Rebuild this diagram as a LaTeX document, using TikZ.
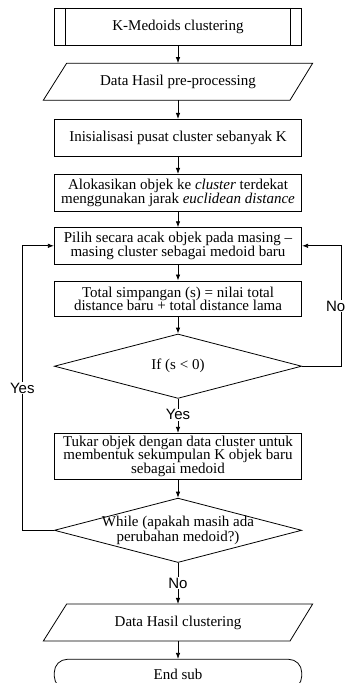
\documentclass[tikz,border=0pt]{standalone}
\usepackage{fontspec}
\setmainfont{Liberation Serif}
\newfontfamily\arialf{Liberation Sans}
\usetikzlibrary{arrows.meta,shapes.geometric,shapes.misc,calc}
\newcommand\fsz{\fontsize{15}{13.7}\selectfont}
\tikzset{
  base/.style={line width=0.8pt},
  arr/.style={line width=0.8pt, -{Latex[length=6pt,width=4.5pt]}},
  procbox/.style={draw, line width=0.8pt, minimum width=247.4pt, inner sep=2pt, align=center, font=\fsz},
  iobox/.style={minimum width=224pt, minimum height=36.7pt, inner sep=2pt, align=center, font=\fsz},
  dia/.style={diamond, draw, line width=0.8pt, minimum width=247.4pt, minimum height=64.4pt, inner sep=0pt},
  diatext/.style={align=center, font=\fsz, inner sep=0pt},
  term/.style={draw, line width=0.8pt, rectangle, rounded corners=13pt, minimum width=247.4pt, minimum height=30pt, font=\fsz},
  lbl/.style={fill=white, inner sep=1pt, font=\arialf\fontsize{15}{15}\selectfont}
}
\begin{document}
\begin{tikzpicture}[x=1pt, y=-1pt]
\clip (0,0) rectangle (346,683);
\fill[white] (0,0) rectangle (346,683);
% nodes
\node[procbox, minimum height=36.7pt] (b1) at (178,26.7) {K-Medoids clustering};
\draw[base] ($(b1.north west)+(11.4,0)$) -- ($(b1.south west)+(11.4,0)$);
\draw[base] ($(b1.north east)+(-11.4,0)$) -- ($(b1.south east)+(-11.4,0)$);
\node[iobox] (p2) at (178,81.7) {Data Hasil pre-processing};
\draw[base] ($(p2.north)+(-111.3,0)$) -- ($(p2.north)+(134.7,0)$) -- ($(p2.south)+(112,0)$) -- ($(p2.south)+(-134.7,0)$) -- cycle;
\node[procbox, minimum height=36.7pt] (b3) at (178,137.7) {Inisialisasi pusat cluster sebanyak K};
\node[procbox, minimum height=36.7pt] (b4) at (178,192.7) {Alokasikan objek ke \textit{cluster} terdekat\\menggunakan jarak \textit{euclidean distance}};
\node[procbox, minimum height=36.3pt] (b5) at (178,245.8) {Pilih secara acak objek pada masing –\\masing cluster sebagai medoid baru};
\node[procbox, minimum height=35.7pt] (b6) at (178,298.8) {Total simpangan (s) = nilai total\\distance baru + total distance lama};
\node[dia] (d1) at (178,366.2) {};
\node[diatext] (d1t) at (d1.center) {If (s < 0)};
\node[procbox, minimum height=46pt] (b7) at (178,456.3) {Tukar objek dengan data cluster untuk\\membentuk sekumpulan K objek baru\\sebagai medoid};
\node[dia] (d2) at (178,530.3) {};
\node[diatext, font=\fontsize{15}{15}\selectfont] (d2t) at (d2.center) {While (apakah masih ada\\perubahan medoid?)};
\node[iobox] (p8) at (178,622.5) {Data Hasil clustering};
\draw[base] ($(p8.north)+(-111.3,0)$) -- ($(p8.north)+(134.7,0)$) -- ($(p8.south)+(112,0)$) -- ($(p8.south)+(-134.7,0)$) -- cycle;
\node[term] (t9) at (178,674.3) {End sub};
% connectors
\draw[arr] (b1.south) -- (p2.north);
\draw[arr] (p2.south) -- (b3.north);
\draw[arr] (b3.south) -- (b4.north);
\draw[arr] (b4.south) -- (b5.north);
\draw[arr] (b5.south) -- (b6.north);
\draw[arr] (b6.south) -- (d1.north);
\draw[arr] (d1.south) -- node[lbl, pos=0.47] {Yes} (b7.north);
\draw[arr] (b7.south) -- (d2.north);
\draw[arr] (d2.south) -- node[lbl, pos=0.49] {No} (p8.north);
\draw[arr] (p8.south) -- (t9.north);
\coordinate (rr) at (341.7,366.2);
\coordinate (ll) at (22.3,530.3);
\draw[arr] (d1.east) -- (rr) |- coordinate[pos=0.25] (nopos) (b5.east);
\node[lbl, anchor=east, inner sep=0.5pt] (nolbl) at (346,306) {No};
\draw[arr] (d2.west) -- (ll) |- node[lbl, pos=0.25] {Yes} (b5.west);
\end{tikzpicture}
\end{document}
